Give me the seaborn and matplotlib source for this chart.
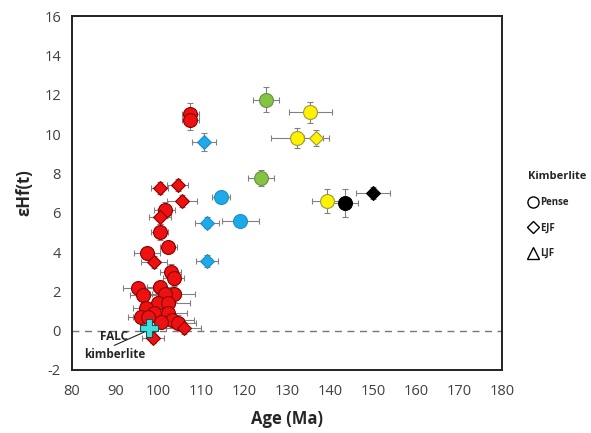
import numpy as np
import pandas as pd
import matplotlib
matplotlib.use("Agg")
import matplotlib.pyplot as plt
from matplotlib.lines import Line2D
import seaborn as sns

sns.set_style("white")
plt.rcParams['font.family'] = ['Open Sans', 'DejaVu Sans']
plt.rcParams['axes.unicode_minus'] = False

# red group (Pense circles / EJF diamonds)
red_age = [107.5, 107.5, 101.5, 100.4, 102.4, 97.4, 102.9, 103.6, 95.3, 96.5, 100.4, 103.6,
           101.7, 99.9, 102.4, 97.2, 99.0, 102.2, 96.0, 103.3, 104.7, 100.6, 97.6,
           100.4, 104.5, 105.6, 100.4, 99.0, 105.9, 98.8]
red_ehf = [11.0, 10.7, 6.15, 5.0, 4.25, 3.95, 3.0, 2.7, 2.15, 1.8, 2.2, 1.85,
           1.85, 1.4, 1.4, 1.15, 0.9, 0.9, 0.7, 0.55, 0.4, 0.45, 0.7,
           7.25, 7.4, 6.6, 5.8, 3.5, 0.15, -0.35]
red_age_err = [2.0, 2.0, 2.5, 2.0, 2.0, 3.0, 2.5, 2.5, 3.5, 3.0, 3.0, 5.0,
               3.5, 4.0, 5.0, 3.0, 4.0, 4.5, 3.0, 5.0, 4.0, 4.0, 3.5,
               2.0, 2.5, 3.5, 2.5, 3.0, 4.0, 2.5]
red_ehf_err = [0.6, 0.5, 0.4, 0.4, 0.3, 0.3, 0.4, 0.4, 0.3, 0.4, 0.3, 0.4,
               0.3, 0.4, 0.4, 0.3, 0.4, 0.4, 0.3, 0.4, 0.4, 0.3, 0.3,
               0.3, 0.3, 0.3, 0.4, 0.3, 0.3, 0.3]
red_kimb = ['Pense'] * 23 + ['EJF'] * 7

blue_age = [110.7, 114.6, 119.1, 111.4, 111.4]
blue_ehf = [9.6, 6.8, 5.6, 5.5, 3.55]
blue_age_err = [2.8, 2.0, 4.3, 2.8, 2.5]
blue_ehf_err = [0.45, 0.3, 0.2, 0.3, 0.3]
blue_kimb = ['EJF', 'Pense', 'Pense', 'EJF', 'EJF']

green_age = [125.1, 123.9]
green_ehf = [11.75, 7.75]
green_age_err = [3.1, 3.0]
green_ehf_err = [0.65, 0.4]
green_kimb = ['Pense', 'Pense']

yellow_age = [135.4, 132.2, 136.8, 139.3]
yellow_ehf = [11.1, 9.8, 9.8, 6.6]
yellow_age_err = [5.1, 6.0, 3.0, 3.6]
yellow_ehf_err = [0.55, 0.5, 0.4, 0.6]
yellow_kimb = ['Pense', 'Pense', 'EJF', 'Pense']

black_age = [143.4, 150.0]
black_ehf = [6.5, 7.0]
black_age_err = [3.0, 4.0]
black_ehf_err = [0.7, 0.3]
black_kimb = ['Pense', 'EJF']

falc_age = [97.8]
falc_ehf = [0.15]

groups = {
    'red': (red_age, red_ehf, red_age_err, red_ehf_err, red_kimb, '#EE1111', '#8B0000'),
    'blue': (blue_age, blue_ehf, blue_age_err, blue_ehf_err, blue_kimb, '#1EAAE8', '#1890C8'),
    'green': (green_age, green_ehf, green_age_err, green_ehf_err, green_kimb, '#84C441', '#6A8F4A'),
    'yellow': (yellow_age, yellow_ehf, yellow_age_err, yellow_ehf_err, yellow_kimb, '#FFF200', '#9A9A40'),
    'black': (black_age, black_ehf, black_age_err, black_ehf_err, black_kimb, '#000000', '#000000'),
}

fig = plt.figure(figsize=(5.91, 4.33), dpi=100)
ax = fig.add_axes([0.122, 0.1455, 0.728, 0.8175])

ax.axhline(0, color='#777777', lw=1.0, ls=(0, (5, 4)), zorder=1)

for name, (age, ehf, aerr, eerr, kimb, fc, ec) in groups.items():
    df = pd.DataFrame({'age': age, 'ehf': ehf, 'kimb': kimb})
    ax.errorbar(age, ehf, xerr=aerr, yerr=eerr, fmt='none', ecolor='#808080',
                elinewidth=0.8, capsize=2.2, capthick=0.8, zorder=2)
    for k, mk, s in [('Pense', 'o', 100), ('EJF', 'D', 50)]:
        sub = df[df.kimb == k]
        if len(sub):
            sns.scatterplot(data=sub, x='age', y='ehf', marker=mk, s=s, color=fc,
                            edgecolor=ec, linewidth=0.8, ax=ax, zorder=3, legend=False)

ax.scatter(falc_age, falc_ehf, marker='P', s=170, color='#3FE0E0', edgecolor='#1C4F55',
           linewidth=0.8, zorder=4)

ax.annotate("FALC\nkimberlite", xy=(97.5, 0.0), xytext=(89.8, -0.75),
            ha='center', va='center', fontsize=8.5, fontweight='bold',
            linespacing=1.5, arrowprops=dict(arrowstyle='-', color='#222222', lw=0.8,
                                             shrinkA=0, shrinkB=2))

ax.set_xlim(80, 180)
ax.set_ylim(-2, 16)
ax.set_xticks(np.arange(80, 181, 10))
ax.set_yticks(np.arange(-2, 17, 2))
ax.set_xticks(np.arange(80, 181, 5), minor=True)
ax.set_yticks(np.arange(-2, 17, 1), minor=True)
ax.tick_params(axis='both', which='both', direction='in', colors='#333333',
               labelsize=10.5, labelcolor='#404040')
ax.tick_params(axis='both', which='major', length=4, width=0.8)
ax.tick_params(axis='both', which='minor', length=3, width=0.8)
ax.tick_params(axis='x', pad=10)
ax.tick_params(axis='y', pad=8)
for sp in ax.spines.values():
    sp.set_visible(True)
    sp.set_color('#222222')
    sp.set_linewidth(1.4)

ax.set_xlabel("Age (Ma)", fontsize=12, fontweight='bold', labelpad=8)
ax.set_ylabel("εHf(t)", fontsize=12, fontweight='bold', labelpad=8)

handles = [Line2D([], [], marker='o', ls='', mfc='white', mec='black', ms=8, mew=1.0),
           Line2D([], [], marker='D', ls='', mfc='white', mec='black', ms=6, mew=1.0),
           Line2D([], [], marker='^', ls='', mfc='white', mec='black', ms=8, mew=1.0)]
leg = fig.legend(handles, ['Pense', 'EJF', 'LJF'], title='Kimberlite', loc='upper left',
                 bbox_to_anchor=(0.882, 0.62), frameon=False, prop={'size': 7, 'weight': 'bold'},
                 title_fontproperties={'size': 8, 'weight': 'bold'}, labelspacing=1.5,
                 handlelength=1.0, handletextpad=0.2, borderpad=0.2)
leg._legend_box.align = 'left'

fig.savefig("out.png", dpi=100)
